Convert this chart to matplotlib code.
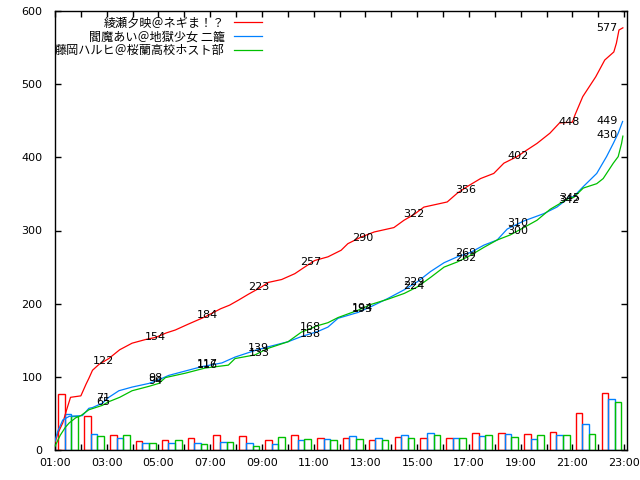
import matplotlib
matplotlib.use("Agg")
import matplotlib.pyplot as plt
import numpy as np

# ---------------- data ----------------
names = ["綾瀬夕映＠ネギま！？", "閻魔あい＠地獄少女 二籠", "藤岡ハルヒ＠桜蘭高校ホスト部"]
colors = ["#ff0000", "#0080ff", "#00c000"]

hours = list(range(1, 23))  # hourly bins 01:00 .. 22:00
red_counts = [77, 46, 20, 12, 14, 16, 20, 19, 14, 20, 16, 16, 14, 18, 16, 16, 23, 23, 22, 25, 51, 78]
blue_counts = [49, 22, 16, 10, 10, 10, 11, 10, 8, 14, 15, 19, 16, 20, 23, 16, 19, 22, 15, 20, 35, 70]
green_counts = [46, 19, 20, 10, 14, 8, 11, 6, 18, 15, 14, 15, 14, 16, 20, 16, 20, 18, 20, 20, 22, 66]

red_t = [1.00, 1.10, 1.30, 1.45, 1.60, 2.00, 2.20, 2.31, 2.45, 2.70, 3.08, 3.50, 3.98, 4.50, 4.90,
         5.30, 5.65, 6.15, 6.80, 7.40, 7.75, 8.10, 8.48, 8.99, 9.24, 9.76, 10.27, 10.65, 11.04,
         11.55, 12.06, 12.32, 12.83, 13.34, 14.10, 14.49, 14.88, 15.26, 16.16, 16.55, 16.93,
         17.45, 17.96, 18.35, 18.86, 19.24, 19.63, 20.13, 20.50, 21.00, 21.10, 21.40, 21.90,
         22.25, 22.60, 22.70, 22.80, 22.95]
red_v = [10, 22, 37, 55, 72, 74, 90, 98, 109, 117, 125, 137, 146, 151, 154,
         160, 164, 172, 182, 193, 198, 205, 213, 223, 229, 233, 241, 250, 259,
         264, 273, 282, 291, 298, 304, 314, 322, 332, 339, 351, 360,
         371, 378, 392, 401, 410, 419, 433, 447, 448, 458, 483, 510,
         533, 544, 556, 574, 577]

blue_t = [1.00, 1.10, 1.30, 1.55, 2.06, 2.31, 2.45, 2.83, 3.08, 3.47, 3.98, 4.63, 5.01, 5.40,
          6.04, 6.68, 7.45, 7.96, 8.73, 9.24, 10.01, 10.52, 11.16, 11.55, 11.94, 12.71, 13.22,
          13.86, 14.50, 15.01, 15.52, 16.04, 16.55, 17.06, 17.58, 18.09, 18.48, 19.12, 19.89,
          20.40, 20.91, 21.04, 21.42, 21.94, 22.32, 22.58, 22.77, 22.94]
blue_v = [12, 25, 41, 46, 47, 57, 58, 64, 72, 81, 86, 91, 96, 102,
          108, 114, 119, 127, 136, 141, 148, 155, 162, 168, 180, 188, 196,
          207, 219, 230, 244, 256, 264, 270, 280, 287, 302, 313, 323,
          332, 346, 346, 360, 378, 401, 419, 433, 449]

green_t = [1.00, 1.20, 1.40, 1.55, 1.80, 2.00, 2.31, 2.83, 3.08, 3.50, 3.98, 4.63, 5.01, 5.27,
           6.04, 6.80, 7.70, 7.96, 8.73, 9.24, 10.01, 10.52, 11.16, 11.55, 11.94, 12.71, 13.22,
           13.86, 14.50, 15.01, 15.52, 16.04, 16.55, 17.06, 17.58, 18.09, 18.60, 19.12, 19.63,
           20.14, 20.91, 21.04, 21.42, 21.94, 22.19, 22.58, 22.77, 22.90, 22.95]
green_v = [5, 20, 31, 37, 44, 47, 55, 61, 66, 72, 81, 87, 91, 99,
           105, 112, 116, 125, 130, 139, 148, 161, 170, 174, 181, 191, 199,
           206, 214, 223, 236, 250, 257, 266, 277, 287, 294, 304, 314,
           329, 345, 345, 358, 364, 371, 392, 401, 419, 429]

label_t = [3, 5, 7, 9, 11, 13, 15, 17, 19, 21, 22.45]
red_labels = [122, 154, 184, 223, 257, 290, 322, 356, 402, 448, 577]
blue_labels = [71, 98, 117, 139, 158, 193, 229, 269, 310, 345, 449]
green_labels = [65, 94, 116, 133, 168, 194, 224, 262, 300, 342, 430]

xtick_hours = list(range(1, 24))
yticks = [0, 100, 200, 300, 400, 500, 600]

# ---------------- plot ----------------
fig = plt.figure(figsize=(6.4, 4.8), dpi=100)
ax = fig.add_axes([55 / 640, 1 - 450 / 480, (627 - 55) / 640, (450 - 11) / 480])

series_t = [red_t, blue_t, green_t]
series_v = [red_v, blue_v, green_v]
counts = [red_counts, blue_counts, green_counts]
labels_vals = [red_labels, blue_labels, green_labels]

bw = 0.255
for i, (c, col) in enumerate(zip(counts, colors)):
    left = np.array(hours) + 0.125 + i * bw
    ax.bar(left, c, width=bw, align="edge", facecolor="none", edgecolor=col,
           linewidth=1.0, zorder=2)

for t, v, col, nm in zip(series_t, series_v, colors, names):
    ax.plot(t, v, color=col, linewidth=0.9, label=nm, zorder=3)

for lv in labels_vals:
    for t, v in zip(label_t, lv):
        ax.text(t - 0.12, v, str(v), ha="center", va="center", fontsize=8,
                color="black", zorder=4)

ax.set_xlim(1.0, 23.11)
ax.set_ylim(0, 600)
ax.set_xticks(xtick_hours)
ax.set_xticklabels([f"{h:02d}:00" if h % 2 == 1 else "" for h in xtick_hours])
ax.set_yticks(yticks)
ax.set_yticklabels([str(y) for y in yticks])
ax.tick_params(axis="both", direction="in", top=True, right=True, length=4,
               width=1, labelsize=8, colors="black")
ax.tick_params(axis="x", pad=6)
ax.tick_params(axis="y", pad=9)
for sp in ax.spines.values():
    sp.set_linewidth(1.0)
    sp.set_color("black")

leg = ax.legend(loc="upper left", bbox_to_anchor=(0.0, 0.988), frameon=False,
                markerfirst=False, prop={"family": ["Noto Sans CJK JP", "DejaVu Sans"], "size": 8.7},
                handlelength=2.3, handletextpad=0.8, borderaxespad=0.0, borderpad=0.0,
                labelspacing=0.08)

fig.savefig("out.png", dpi=100)
